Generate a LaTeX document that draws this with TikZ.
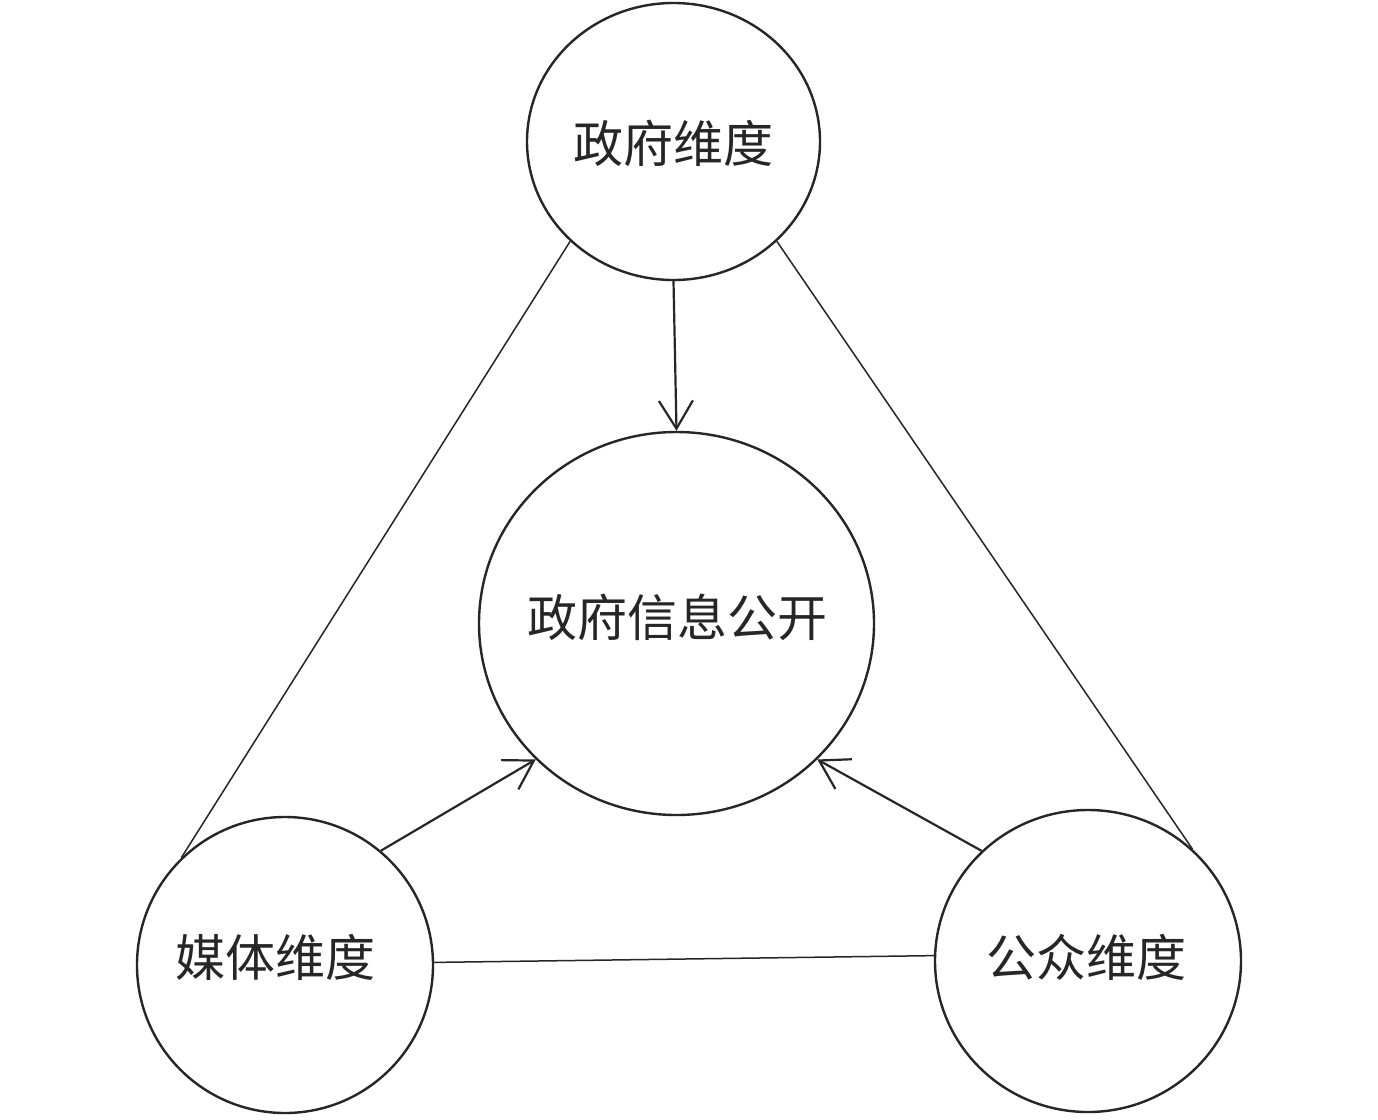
\documentclass[tikz,border=0pt]{standalone}
\usepackage{fontspec}
\newfontfamily\cjk{Noto Sans CJK SC}
\usetikzlibrary{shapes.geometric,arrows.meta}
\begin{document}
\begin{tikzpicture}[x=1pt,y=-1pt,
  dim/.style={draw=black!85,line width=2.4pt,ellipse,inner sep=0pt,fill=white},
  lbl/.style={font=\cjk\fontsize{50}{58}\selectfont,text=black!85,inner sep=0pt},
  tie/.style={draw=black!85,line width=1.5pt},
  flow/.style={draw=black!85,line width=2.2pt,-{Straight Barb[length=28pt,width=34pt,line width=2.2pt]}}]
\useasboundingbox[fill=white] (0,0) rectangle (1378,1119);
\node[dim,minimum width=293pt,minimum height=277pt] (t) at (673.5,141.5) {};
\node[dim,minimum width=395pt,minimum height=383pt] (c) at (676.5,623.5) {};
\node[dim,minimum width=296pt,minimum height=296pt] (bl) at (285,965) {};
\node[dim,minimum width=306pt,minimum height=302pt] (br) at (1088,961) {};
\node[lbl] (tt) at (673,143) {政府维度};
\node[lbl] (ct) at (677,617) {政府信息公开};
\node[lbl] (blt) at (275,957) {媒体维度};
\node[lbl] (brt) at (1086,957) {公众维度};
\draw[tie] (t.-136) -- (bl.134);
\draw[tie] (t.-44) -- (br.47);
\draw[tie] (bl.1) -- (br.178.5);
\draw[flow] (t.south) -- (c.north);
\draw[flow] (bl.50) -- (c.-136);
\draw[flow] (br.134.5) -- (c.-44);
\end{tikzpicture}
\end{document}
